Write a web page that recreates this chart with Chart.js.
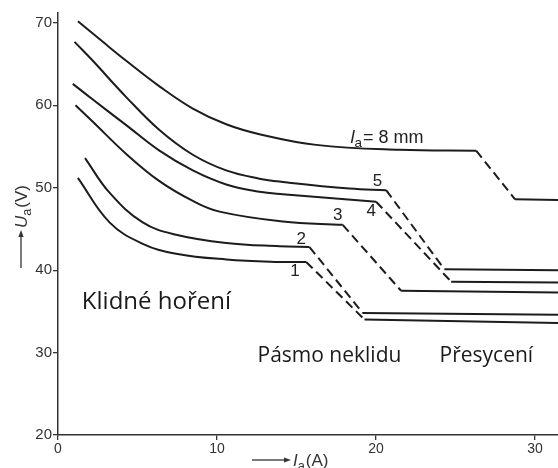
<!DOCTYPE html>
<html>
<head>
<meta charset="utf-8">
<script src="https://cdn.jsdelivr.net/npm/chart.js@4/dist/chart.umd.min.js"></script>
<style>
html,body{margin:0;padding:0;background:#fff;}
#wrap{width:558px;height:468px;position:relative;}
</style>
</head>
<body>
<div id="wrap"><canvas id="c" width="558" height="468"></canvas></div>
<script>
// ---- data (x = Ia [A], y = Ua [V]) ----
const xTicks = [0, 10, 20, 30];
const yTicks = [20, 30, 40, 50, 60, 70];

// la = 8 mm
const c8Rise = [[1.25,70.2],[2.82,67.7],[4.29,65.4],[6.38,62.3],[8.48,59.6],[10.58,57.7],[12.67,56.5],[16.24,55.2],[21.48,54.6],[26.3,54.5]];
const c8Sat  = [[28.75,48.6],[31.45,48.5]];
// curve 5
const c5Rise = [[1.04,67.7],[2.19,65.4],[4.29,61.0],[6.38,57.0],[8.48,54.0],[10.58,52.1],[12.67,51.1],[14.14,50.7],[18.33,49.9],[20.64,49.7]];
const c5Sat  = [[24.31,40.1],[31.45,40.0]];
// curve 4
const c4Rise = [[0.93,62.6],[2.19,60.7],[4.29,57.6],[6.38,54.5],[8.48,52.1],[10.58,50.4],[12.67,49.5],[14.14,49.2],[20.01,48.3]];
const c4Sat  = [[24.73,38.6],[31.45,38.5]];
// curve 3
const c3Rise = [[1.1,60.0],[2.19,58.0],[4.29,54.1],[6.38,50.8],[8.48,48.4],[10.16,47.1],[14.14,45.9],[17.91,45.5]];
const c3Sat  = [[21.58,37.5],[31.45,37.3]];
// curve 2
const c2Rise = [[1.7,53.6],[3.24,49.4],[5.33,45.8],[7.43,44.3],[10.58,43.3],[13.93,42.9],[15.82,42.8]];
const c2Sat  = [[19.17,34.8],[31.45,34.6]];
// curve 1
const c1Rise = [[1.25,51.2],[3.24,45.8],[5.33,43.2],[7.43,42.0],[10.58,41.3],[13.93,41.0],[15.61,41.0]];
const c1Sat  = [[19.28,34.0],[31.45,33.6]];

const curveLabels = ['5','4','3','2','1'];
const curveLabelPos = [[20.1,50.8],[19.7,47.1],[17.6,46.6],[15.3,43.7],[14.9,39.9]];

// ---- build datasets ----
const LINE = '#1c1c1c';
const pts = a => a.map(([x,y]) => ({x, y}));
const curves = [[c8Rise,c8Sat],[c5Rise,c5Sat],[c4Rise,c4Sat],[c3Rise,c3Sat],[c2Rise,c2Sat],[c1Rise,c1Sat]];
const datasets = [];
curves.forEach(([rise, sat]) => {
  datasets.push({data: pts(rise), borderColor: LINE, borderWidth: 2, pointRadius: 0, tension: 0.4, fill: false});
  datasets.push({data: pts([rise[rise.length-1], sat[0]]), borderColor: LINE, borderWidth: 2, pointRadius: 0, tension: 0, borderDash: [9,5], fill: false});
  datasets.push({data: pts(sat), borderColor: LINE, borderWidth: 2, pointRadius: 0, tension: 0, fill: false});
});

function subLabel(ctx, x, y, main, sub, rest, size) {
  ctx.save();
  const fam = '"Liberation Sans", Arial, sans-serif';
  ctx.font = 'italic ' + size + 'px ' + fam;
  const w1 = ctx.measureText(main).width;
  ctx.font = (size*0.75) + 'px ' + fam;
  const w2 = ctx.measureText(sub).width;
  ctx.textAlign = 'left';
  ctx.textBaseline = 'alphabetic';
  ctx.font = 'italic ' + size + 'px ' + fam;
  ctx.fillText(main, x, y);
  ctx.font = (size*0.75) + 'px ' + fam;
  ctx.fillText(sub, x + w1, y + size*0.22);
  ctx.font = size + 'px ' + fam;
  ctx.fillText(rest, x + w1 + w2 + 1, y);
  ctx.restore();
}

function arrow(ctx, x1, y1, x2, y2) {
  ctx.save();
  ctx.strokeStyle = '#333'; ctx.fillStyle = '#333'; ctx.lineWidth = 1.3;
  const ang = Math.atan2(y2-y1, x2-x1);
  const hl = 7, hw = 2.6;
  const bx = x2 - hl*Math.cos(ang), by = y2 - hl*Math.sin(ang);
  ctx.beginPath(); ctx.moveTo(x1,y1); ctx.lineTo(bx,by); ctx.stroke();
  ctx.beginPath();
  ctx.moveTo(x2,y2);
  ctx.lineTo(bx - hw*Math.sin(ang), by + hw*Math.cos(ang));
  ctx.lineTo(bx + hw*Math.sin(ang), by - hw*Math.cos(ang));
  ctx.closePath(); ctx.fill();
  ctx.restore();
}

const annot = {
  id: 'annot',
  afterDraw(chart) {
    const ctx = chart.ctx;
    const xs = chart.scales.x, ys = chart.scales.y;
    ctx.save();
    ctx.fillStyle = '#222';
    // curve numbers
    ctx.font = '17px "Liberation Sans", Arial, sans-serif';
    ctx.textAlign = 'center'; ctx.textBaseline = 'middle';
    curveLabels.forEach((t, i) => {
      ctx.fillText(t, xs.getPixelForValue(curveLabelPos[i][0]), ys.getPixelForValue(curveLabelPos[i][1]));
    });
    // la = 8 mm
    subLabel(ctx, xs.getPixelForValue(18.4), ys.getPixelForValue(55.4), 'l', 'a', '= 8 mm', 18);
    // region texts
    ctx.textAlign = 'left'; ctx.textBaseline = 'alphabetic';
    ctx.fillStyle = '#1a1a1a';
    ctx.font = '24px "Open Sans", "Noto Sans", sans-serif';
    ctx.fillText('Klidné hoření', xs.getPixelForValue(1.5), ys.getPixelForValue(35.3));
    ctx.font = '21px "Open Sans", "Noto Sans", sans-serif';
    ctx.fillText('Pásmo neklidu', xs.getPixelForValue(12.55), ys.getPixelForValue(28.8));
    ctx.fillText('Přesycení', xs.getPixelForValue(24.0), ys.getPixelForValue(28.8));
    // x axis title
    ctx.fillStyle = '#333';
    arrow(ctx, 252, 460, 291, 460);
    subLabel(ctx, 293, 466, 'I', 'a', '(A)', 17);
    // y axis title (rotated)
    ctx.save();
    ctx.translate(21, 268);
    ctx.rotate(-Math.PI/2);
    arrow(ctx, 0, 0, 38, 0);
    subLabel(ctx, 40, 6, 'U', 'a', '(V)', 17);
    ctx.restore();
    ctx.restore();
  }
};

new Chart(document.getElementById('c'), {
  type: 'line',
  data: { datasets },
  options: {
    responsive: false,
    animation: false,
    devicePixelRatio: 1,
    layout: { padding: { top: 13, right: 0, left: 0, bottom: 0 } },
    plugins: { legend: { display: false }, tooltip: { enabled: false } },
    scales: {
      x: {
        type: 'linear', min: 0, max: 31.45,
        border: { display: true, color: '#333', width: 1.5 },
        grid: { display: true, drawOnChartArea: false, drawTicks: true, tickLength: 5, color: '#333', lineWidth: 1.3 },
        ticks: { color: '#333', font: { family: '"Liberation Sans", Arial, sans-serif', size: 14 }, padding: 1, maxRotation: 0 },
        afterBuildTicks: s => { s.ticks = xTicks.map(v => ({ value: v })); },
        afterFit: s => { s.height = 33; }
      },
      y: {
        type: 'linear', min: 20, max: 71.2,
        border: { display: true, color: '#333', width: 1.5 },
        grid: { display: true, drawOnChartArea: false, drawTicks: true, tickLength: 5, color: '#333', lineWidth: 1.3 },
        ticks: { color: '#333', font: { family: '"Liberation Sans", Arial, sans-serif', size: 15 }, padding: 1 },
        afterBuildTicks: s => { s.ticks = yTicks.map(v => ({ value: v })); },
        afterFit: s => { s.width = 58; }
      }
    }
  },
  plugins: [annot]
});
</script>
</body>
</html>
